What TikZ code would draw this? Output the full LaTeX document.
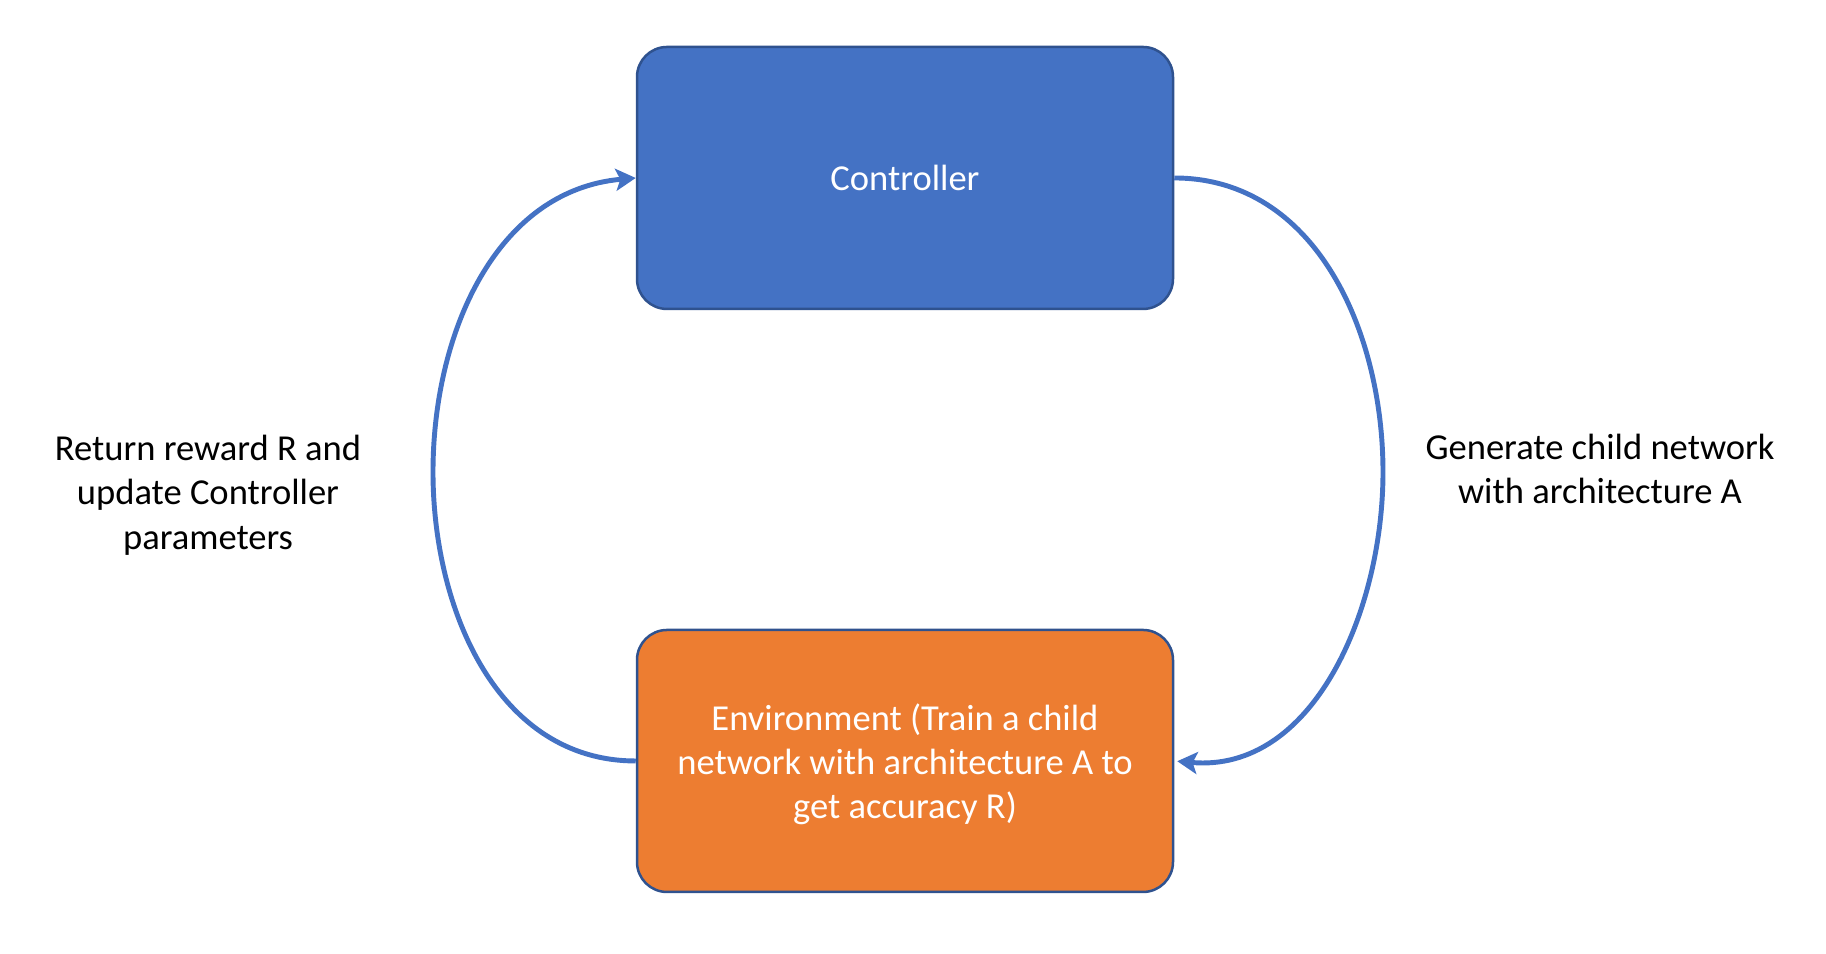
\documentclass[tikz,border=0pt]{standalone}
\usepackage{fontspec}
\setmainfont{Carlito}
\usetikzlibrary{arrows.meta, calc, positioning}
\definecolor{myBlue}{RGB}{68, 114, 196}
\definecolor{myEdge}{RGB}{47, 82, 143}
\definecolor{myOrange}{RGB}{237, 125, 49}
\tikzstyle{box}= [draw=myEdge, line width=0.25mm, rounded corners=3mm, text=white, align=center]
\tikzstyle{Box}= [minimum width=5.36cm, minimum height=2.62cm, box]
\tikzstyle{loop}= [draw=myBlue, line width=1.4pt, -{Stealth[length=2mm, width=2.2mm, inset=0.45mm]}]
\tikzstyle{note}= [align=center, font=\fontsize{10.4pt}{12.6pt}\selectfont]

\begin{document}
\begin{tikzpicture}[node distance=2cm,auto]
    \useasboundingbox (0,0) rectangle (18.26,9.54);

    \node [Box, fill=myBlue, note, text=white] (ctrl) at (9.05,7.76) {Controller};
    \node [Box, fill=myOrange, note, text=white, text depth=0mm, below=3.185cm of ctrl] (env)
        {Environment (Train a child\\network with architecture A to\\get accuracy R)};

    % turning points of the two loops
    \coordinate (leftmid) at (4.33,4.82);
    \coordinate (rightmid) at (13.83,4.82);

    % reward path
    \draw[loop] (env.west) to[out=180, in=-90] (leftmid)
        to[out=90, in=185] (ctrl.west);

    % generate path
    \draw[loop, shorten >=0.3mm] (ctrl.east) to[out=0, in=90] (rightmid)
        to[out=-90, in=-5] (env.east);

    \node [note] (reward) at (2.08,4.59) {Return reward R and\\update Controller\\parameters};
    \node [note] (generate) at (16.0,4.85) {Generate child network\\with architecture A};

\end{tikzpicture}
\end{document}
